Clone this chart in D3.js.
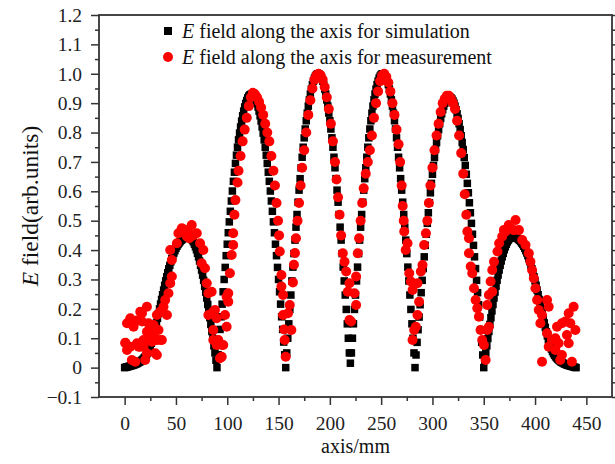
<!DOCTYPE html>
<html>
<head>
<meta charset="utf-8">
<script src="https://cdn.jsdelivr.net/npm/d3@7"></script>
<style>
  body { margin: 0; background: #fff; }
  .tick text { font-family: "Liberation Serif", "Times New Roman", serif; font-size: 19.5px; fill: #222; }
  .lbl { font-family: "Liberation Serif", "Times New Roman", serif; font-size: 20px; fill: #111; }
</style>
</head>
<body>
<div id="chart"></div>
<script>
// simulation: one sample per mm, starting at 0 mm
var simStart = 0;
var simStep = 1;
var simE = [
  0.000,0.001,0.002,0.003,0.004,0.005,0.006,0.007,0.008,0.009,
  0.011,0.012,0.014,0.016,0.018,0.020,0.023,0.026,0.029,0.033,
  0.037,0.042,0.048,0.055,0.063,0.072,0.083,0.095,0.108,0.122,
  0.137,0.152,0.168,0.184,0.200,0.216,0.232,0.248,0.264,0.280,
  0.295,0.309,0.323,0.336,0.348,0.360,0.371,0.381,0.390,0.398,
  0.406,0.413,0.419,0.424,0.429,0.433,0.436,0.439,0.441,0.443,
  0.444,0.445,0.445,0.444,0.442,0.439,0.434,0.428,0.420,0.411,
  0.401,0.389,0.377,0.363,0.348,0.332,0.315,0.297,0.277,0.257,
  0.237,0.215,0.193,0.170,0.147,0.123,0.099,0.074,0.050,0.025,
  0.000,
  0.044,0.087,0.130,0.173,0.216,0.258,0.300,0.341,0.381,0.420,0.459,0.496,0.532,0.567,0.601,0.634,0.665,
  0.695,0.723,0.750,0.775,0.798,0.819,0.839,0.857,0.873,0.887,0.899,0.909,0.918,0.924,0.928,0.930,
  0.930,0.928,0.924,0.918,0.909,0.899,0.887,0.873,0.857,0.839,0.819,0.798,0.775,0.750,0.723,0.695,0.665,
  0.634,0.601,0.567,0.532,0.496,0.459,0.420,0.381,0.341,0.300,0.258,0.216,0.173,0.130,0.087,0.044,
  0.000,
  0.050,0.100,0.149,0.198,0.247,0.295,0.342,0.388,0.434,0.478,0.521,0.563,0.604,0.643,0.680,0.716,
  0.750,0.782,0.812,0.840,0.866,0.890,0.911,0.931,0.948,0.963,0.975,0.985,0.992,0.997,1.000,
  1.000,0.997,0.992,0.985,0.975,0.963,0.948,0.931,0.911,0.890,0.866,0.840,0.812,0.782,0.750,0.716,
  0.680,0.643,0.604,0.563,0.521,0.478,0.434,0.388,0.342,0.295,0.247,0.198,0.149,0.100,0.050,
  0.015,
  0.050,0.100,0.149,0.198,0.247,0.295,0.342,0.388,0.434,0.478,0.521,0.563,0.604,0.643,0.680,0.716,
  0.750,0.782,0.812,0.840,0.866,0.890,0.911,0.931,0.948,0.963,0.975,0.985,0.992,0.997,1.000,
  1.000,0.997,0.992,0.985,0.975,0.963,0.948,0.931,0.911,0.890,0.866,0.840,0.812,0.782,0.750,0.716,
  0.680,0.643,0.604,0.563,0.521,0.478,0.434,0.388,0.342,0.295,0.247,0.198,0.149,0.100,0.050,
  0.000,
  0.043,0.086,0.129,0.172,0.214,0.255,0.297,0.337,0.377,0.416,0.454,0.491,0.527,0.561,0.595,0.627,0.658,
  0.688,0.715,0.742,0.766,0.789,0.810,0.830,0.848,0.864,0.878,0.890,0.900,0.908,0.914,0.918,0.920,
  0.920,0.918,0.914,0.908,0.900,0.890,0.878,0.864,0.848,0.830,0.810,0.789,0.766,0.742,0.715,0.688,0.658,
  0.627,0.595,0.561,0.527,0.491,0.454,0.416,0.377,0.337,0.297,0.255,0.214,0.172,0.129,0.086,0.043,
  0.000,
  0.025,0.050,0.074,0.099,0.123,0.147,0.170,0.193,0.215,0.237,
  0.257,0.277,0.297,0.315,0.332,0.348,0.363,0.377,0.389,0.401,
  0.411,0.420,0.428,0.434,0.439,0.442,0.444,0.445,0.445,0.444,
  0.443,0.441,0.439,0.436,0.433,0.429,0.424,0.419,0.413,0.406,
  0.398,0.390,0.381,0.371,0.360,0.348,0.336,0.323,0.309,0.295,
  0.280,0.264,0.248,0.232,0.216,0.200,0.184,0.168,0.152,0.137,
  0.122,0.108,0.095,0.083,0.072,0.063,0.055,0.048,0.042,0.037,
  0.033,0.029,0.026,0.023,0.020,0.018,0.016,0.014,0.012,0.011,
  0.009,0.008,0.007,0.006,0.005,0.004,0.003,0.002,0.001,0.000
];

// measurement points (mm, E)
var measX = [
  0.7,2.3,7,12,17,2.3,7,10.4,13.6,18.4,21.7,20,25,29.8,31.4,34.7,26.6,23.3,21.7,16.9,28.2,31.4,37.9,41.2,
  5.5,8.7,15.2,28.2,33,21.7,28.2,36.3,18.4,12,0.7,5.5,15.2,21.7,31.4,34.7,39.5,42.7,44.4,46,46,44.4,50.9,
  52.4,55.7,58,60.6,62,63,65.4,67,70.3,73.5,76.7,
  75.1,78.3,80,81.6,84.8,88,89.7,86.4,86.4,89.7,81.6,86.4,91.3,94.6,92.9,94.6,96.1,97.8,99.4,101,99.4,101,
  102.6,104.3,105.8,105.8,
  107,108,110,111,113,115,117,119,121,123,125,127,129,131,133,135,137,139,141,143,145,146.5,148,149.5,150.5,
  151.2,152.8,152.8,154.4,154.4,156,157,155.5,
  159.2,160.9,162.5,164,165,166,167,168.5,170,171.5,173,175,177,179,181,183,185,187,189,191,193,195,197,199,
  201,203,205,206.5,208,209.5,211,212.6,214.3,215.9,217.5,219.1,219.1,220.7,
  224,225.6,225.6,227.2,228.5,230,231.5,233,235,237,239,241,243,245,247,249,251,253,255,257,259,261,263,265,
  267,268.5,270,271,272,272.5,273.9,275.7,277.4,279,280.6,282.2,283.8,280.6,285.4,
  285.4,287,288.7,290.3,291.9,293.6,295,296.5,298,300,302,304,306,308,310,312,314,316,318,320,322,324,326,
  328,330,331.5,333,334,335.6,335.6,337.3,338.8,340.5,342.1,343.7,345.3,346.9,348.5,350.2,351.8,
  353.4,355,353.4,355,358.3,356.7,358.3,360,363.4,365,368,371.3,369.6,374.4,381,379.3,384.3,387.5,390.7,
  393.9,395.5,397.1,398.8,400.4,402,411.7,413.3,403.6,406.8,405.2,411.7,416.5,421.4,426.2,429.5,432.8,437.6,
  434.4,439.3,431.1,419.8,423,432.8,413.3,419.8,426.2,435.9,406.8,424.6
];
var measE = [
  0.085,0.151,0.157,0.16,0.157,0.06,0.026,0.02,0.071,0.071,0.094,0.026,0.117,0.049,0.094,0.094,0.088,0.151,0.207,0.185,0.145,0.179,0.207,0.179,
  0.168,0.139,0.19,0.139,0.128,0.122,0.105,0.094,0.094,0.083,0.083,0.071,0.071,0.049,0.043,0.19,0.23,0.253,0.287,0.31,0.366,0.4,0.423,
  0.457,0.474,0.47,0.446,0.46,0.44,0.485,0.45,0.457,0.423,0.4,
  0.355,0.338,0.287,0.253,0.258,0.196,0.168,0.128,0.094,0.077,0.179,0.19,0.094,0.077,0.032,0.037,0.077,0.179,0.241,0.253,0.139,0.224,
  0.321,0.383,0.417,0.457,
  0.52,0.57,0.63,0.67,0.72,0.77,0.81,0.85,0.89,0.92,0.935,0.93,0.92,0.905,0.885,0.86,0.83,0.80,0.77,0.72,0.67,0.62,0.56,0.50,0.45,
  0.395,0.315,0.276,0.247,0.179,0.094,0.037,0.13,
  0.185,0.213,0.128,0.29,0.35,0.39,0.44,0.50,0.56,0.62,0.68,0.74,0.80,0.86,0.91,0.95,0.98,0.995,1.0,0.995,0.98,0.955,0.92,0.88,
  0.83,0.77,0.70,0.64,0.58,0.52,0.45,0.389,0.36,0.327,0.258,0.287,0.162,0.157,
  0.253,0.213,0.31,0.389,0.44,0.50,0.56,0.61,0.66,0.70,0.74,0.79,0.85,0.90,0.94,0.975,0.995,1.0,0.99,0.97,0.94,0.90,0.86,0.81,
  0.76,0.70,0.62,0.55,0.50,0.463,0.4,0.423,0.321,0.293,0.264,0.128,0.139,0.094,0.179,
  0.287,0.224,0.327,0.349,0.417,0.457,0.50,0.56,0.62,0.68,0.74,0.79,0.83,0.87,0.90,0.915,0.925,0.925,0.915,0.90,0.88,0.84,0.79,
  0.73,0.66,0.59,0.52,0.463,0.44,0.389,0.344,0.321,0.27,0.23,0.202,0.173,0.128,0.094,0.077,0.026,
  0.128,0.139,0.213,0.247,0.258,0.293,0.332,0.36,0.395,0.423,0.446,0.463,0.468,0.485,0.502,0.468,0.468,0.434,0.417,
  0.389,0.36,0.332,0.304,0.27,0.23,0.23,0.207,0.196,0.179,0.151,0.117,0.094,0.139,0.151,0.157,0.185,0.207,
  0.151,0.128,0.111,0.1,0.083,0.083,0.071,0.06,0.043,0.02,0.02,0.026
];

var xTicks = [0, 50, 100, 150, 200, 250, 300, 350, 400, 450];
var yTicks = [-0.1, 0, 0.1, 0.2, 0.3, 0.4, 0.5, 0.6, 0.7, 0.8, 0.9, 1.0, 1.1, 1.2];
var legendNames = ["field along the axis for simulation", "field along the axis for measurement"];

var svgWidth = 615, svgHeight = 464;
var margin = { top: 15, right: 3, bottom: 67, left: 99 };
var width = svgWidth - margin.left - margin.right;
var height = svgHeight - margin.top - margin.bottom;

var svg = d3.select("#chart").append("svg")
    .attr("width", svgWidth)
    .attr("height", svgHeight);

var chartGroup = svg.append("g")
    .attr("transform", `translate(${margin.left}, ${margin.top})`);

var xScale = d3.scaleLinear().domain([-25, 475]).range([0, width]);
var yScale = d3.scaleLinear().domain([-0.1, 1.2]).range([height, 0]);

var yFmt = function(d) { return Math.abs(d) < 1e-9 ? "0" : d3.format(".1f")(d); };
var xMinor = xTicks.map(d => d + 25).filter(d => d < 475);
var yMinor = yTicks.slice(0, -1).map(d => d + 0.05);

// minor ticks
chartGroup.append("g")
    .attr("transform", `translate(0, ${height})`)
    .call(d3.axisBottom(xScale).tickValues(xMinor).tickSize(4).tickFormat(""));
chartGroup.append("g")
    .call(d3.axisLeft(yScale).tickValues(yMinor).tickSize(4).tickFormat(""));
chartGroup.append("g")
    .attr("transform", `translate(${width}, 0)`)
    .call(d3.axisLeft(yScale).tickValues(yMinor).tickSize(-3).tickFormat(""));

// major ticks
chartGroup.append("g")
    .attr("transform", `translate(0, ${height})`)
    .call(d3.axisBottom(xScale).tickValues(xTicks).tickSize(8).tickPadding(11));
chartGroup.append("g")
    .call(d3.axisLeft(yScale).tickValues(yTicks).tickSize(8).tickPadding(9).tickFormat(yFmt));
chartGroup.append("g")
    .attr("transform", `translate(${width}, 0)`)
    .call(d3.axisLeft(yScale).tickValues(yTicks).tickSize(-6).tickFormat(""));

chartGroup.selectAll(".domain").remove();
chartGroup.selectAll(".tick line").attr("stroke", "#333").attr("stroke-width", 1.5);

// frame
chartGroup.append("rect")
    .attr("x", 0).attr("y", 0)
    .attr("width", width).attr("height", height)
    .attr("fill", "none")
    .attr("stroke", "#333")
    .attr("stroke-width", 1.8);

// simulation squares
var sq = 7.5;
chartGroup.append("g").selectAll("rect")
    .data(simE)
    .enter()
    .append("rect")
    .attr("x", (d, i) => xScale(simStart + i * simStep) - sq / 2)
    .attr("y", d => yScale(d) - sq / 2)
    .attr("width", sq)
    .attr("height", sq)
    .attr("fill", "#000");

// measurement circles
chartGroup.append("g").selectAll("circle")
    .data(measE)
    .enter()
    .append("circle")
    .attr("cx", (d, i) => xScale(measX[i]))
    .attr("cy", d => yScale(d))
    .attr("r", 5)
    .attr("fill", "#ff0000");

// legend
var legend = svg.append("g");
legend.append("rect")
    .attr("x", 164).attr("y", 27).attr("width", 8).attr("height", 8)
    .attr("fill", "#000");
legend.append("circle")
    .attr("cx", 168).attr("cy", 57).attr("r", 5)
    .attr("fill", "#ff0000");
legendNames.forEach(function(name, i) {
    var t = legend.append("text")
        .attr("class", "lbl")
        .attr("x", 182)
        .attr("y", 38 + i * 26);
    t.append("tspan").attr("font-style", "italic").text("E");
    t.append("tspan").text(" " + name);
});

// axis titles
svg.append("text")
    .attr("class", "lbl")
    .attr("x", margin.left + width / 2)
    .attr("y", 453)
    .attr("text-anchor", "middle")
    .text("axis/mm");

var yTitle = svg.append("text")
    .attr("class", "lbl")
    .style("font-size", "23.5px")
    .attr("transform", `translate(38, ${margin.top + height / 2}) rotate(-90)`)
    .attr("text-anchor", "middle");
yTitle.append("tspan").attr("font-style", "italic").text("E");
yTitle.append("tspan").text(" field(arb.units)");
</script>
</body>
</html>
